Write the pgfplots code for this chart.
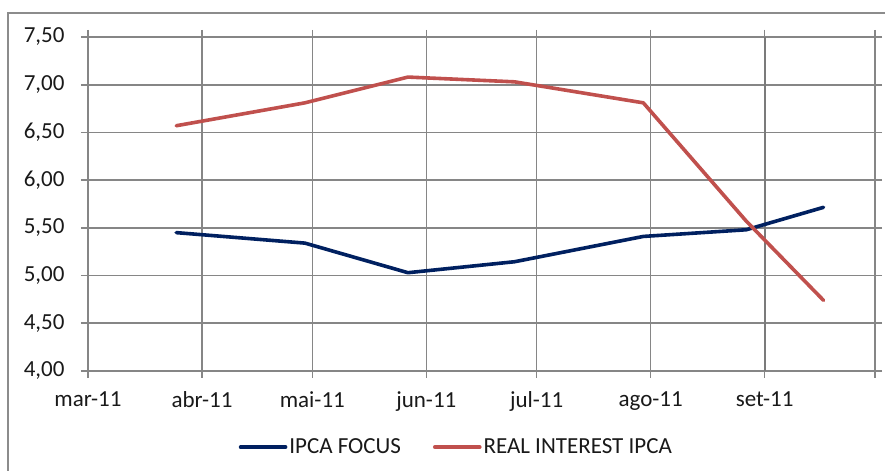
\documentclass[border=0pt]{standalone}
\usepackage{fontspec}
\setmainfont{Carlito}
\usepackage{pgfplots}
\pgfplotsset{compat=1.18}
\definecolor{ipcablue}{RGB}{0,32,96}
\definecolor{realred}{RGB}{192,80,77}
\definecolor{gridgray}{RGB}{134,134,134}
\definecolor{framegray}{RGB}{140,140,140}
\begin{document}
\begin{tikzpicture}[x=1bp,y=1bp]
\useasboundingbox (0,0) rectangle (885,471);
\draw[framegray, line width=2bp] (8,-5) -- (8,458) -- (890,458);
\begin{axis}[
  at={(88bp,100bp)}, anchor=south west,
  width=787bp, height=334bp, scale only axis,
  xmin=0, xmax=214, ymin=4, ymax=7.5,
  xtick={0,31,61,92,122,153,184,214},
  xticklabels={mar-11,abr-11,mai-11,jun-11,jul-11,ago-11,set-11,{}},
  ytick={4,4.5,5,5.5,6,6.5,7,7.5},
  /pgf/number format/assume math mode=true,
  yticklabel style={/pgf/number format/fixed, /pgf/number format/fixed zerofill, /pgf/number format/precision=2, /pgf/number format/use comma, /tikz/xshift=-13bp},
  tick label style={font=\fontsize{23bp}{27bp}\selectfont, text=black!90},
  grid=major,
  grid style={gridgray, line width=1.6bp},
  axis line style={gridgray, line width=1.6bp},
  tick style={gridgray, line width=1.6bp},
  tick align=outside,
  major tick length=7bp,
  xticklabel style={/tikz/yshift=-10bp},
  extra x ticks={184}, extra x tick labels={},
  extra x tick style={grid style={gridgray!92!black, line width=2.2bp}},
  legend style={draw=none, fill=none, at={(0.468,-0.228)}, anchor=center,
    font=\fontsize{23bp}{27bp}\selectfont, text=black!90,
    /tikz/every even column/.append style={column sep=30bp},
    inner sep=0pt},
  legend columns=2,
  legend image code/.code={\draw[#1] (0bp,0bp) -- (45bp,0bp);},
  every axis plot/.append style={line width=3.6bp, line join=round, line cap=round},
]
\addplot[ipcablue] coordinates {
  (24,5.45) (59,5.34) (87,5.03) (116,5.145) (151,5.41) (179,5.48) (200,5.715)
};
\addlegendentry{IPCA FOCUS}
\addplot[realred] coordinates {
  (24,6.57) (59,6.81) (87,7.08) (116,7.03) (151,6.81) (179,5.57) (200,4.74)
};
\addlegendentry{REAL INTEREST IPCA}
\end{axis}
\end{tikzpicture}
\end{document}
